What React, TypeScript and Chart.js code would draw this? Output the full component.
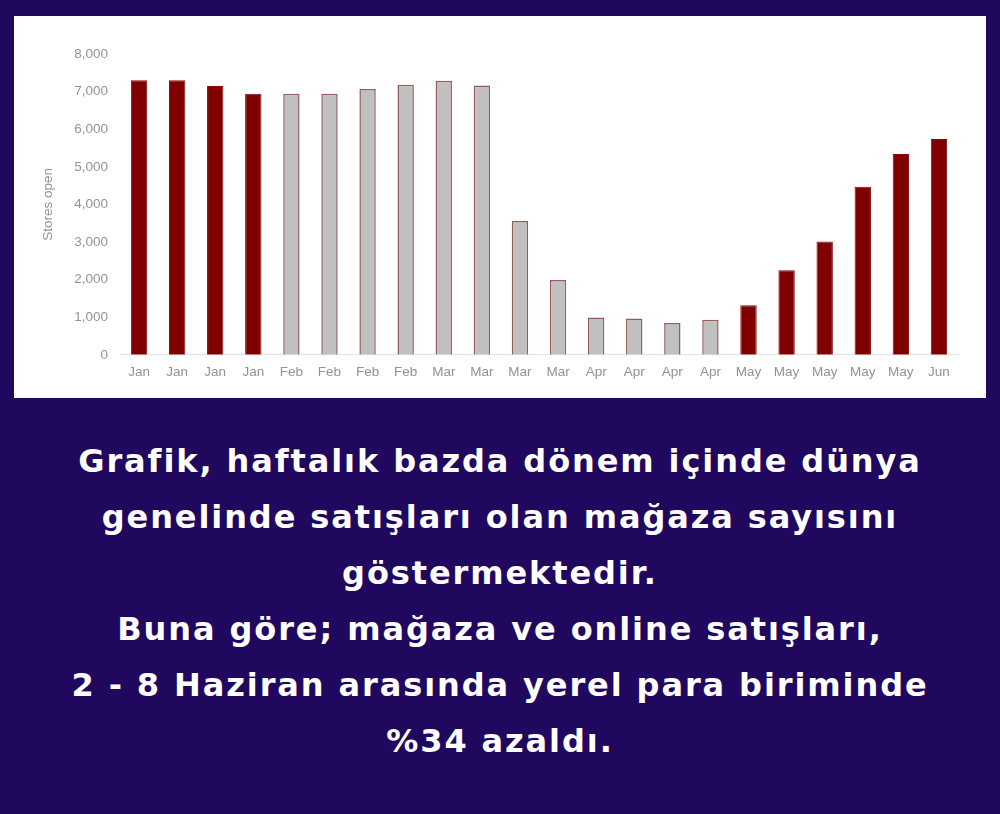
import React, { useEffect, useRef } from "react";
import { Chart, registerables } from "chart.js";

Chart.register(...registerables);

const weekLabels = [
  "Jan", "Jan", "Jan", "Jan", "Feb", "Feb", "Feb", "Feb", "Mar", "Mar", "Mar",
  "Mar", "Apr", "Apr", "Apr", "Apr", "May", "May", "May", "May", "May", "Jun",
];
const storesOpen = [
  7300, 7300, 7150, 6940, 6940, 6940, 7070, 7180, 7290, 7160, 3560,
  1990, 990, 965, 845, 930, 1320, 2250, 3010, 4470, 5340, 5740,
];
// true = highlighted (dark red) week, false = grey week
const highlighted = [
  true, true, true, true, false, false, false, false, false, false, false,
  false, false, false, false, false, true, true, true, true, true, true,
];
const yTicks = [0, 1000, 2000, 3000, 4000, 5000, 6000, 7000, 8000];
const yTitle = "Stores open";

const captionLines = [
  "Grafik, haftalık bazda dönem içinde dünya",
  "genelinde satışları olan mağaza sayısını",
  "göstermektedir.",
  "Buna göre; mağaza ve online satışları,",
  "2 - 8 Haziran arasında yerel para biriminde",
  "%34 azaldı.",
];

const DARK = "#800000";
const GREY = "#c0c0c0";
const AXIS_FONT = "'Liberation Sans', Arial, sans-serif";

function ChartBox() {
  const ref = useRef<HTMLCanvasElement | null>(null);
  useEffect(() => {
    if (!ref.current) return;
    const chart = new Chart(ref.current, {
      type: "bar",
      data: {
        labels: weekLabels,
        datasets: [
          {
            data: storesOpen,
            backgroundColor: highlighted.map((h) => (h ? DARK : GREY)),
            borderColor: highlighted.map((h) => (h ? "#8a0a0a" : "#955c5c")),
            borderWidth: highlighted.map((h) => (h ? 1 : 1.5)),
            categoryPercentage: 1,
            barPercentage: 0.43,
          },
        ],
      },
      options: {
        animation: false,
        responsive: false,
        devicePixelRatio: 1,
        layout: { padding: { top: 38, right: 28, bottom: 17, left: 0 } },
        plugins: {
          legend: { display: false },
          tooltip: { enabled: false },
        },
        scales: {
          x: {
            grid: { display: false },
            border: { display: true, color: "#e2e2e2", width: 1 },
            ticks: {
              color: "#939393",
              font: { family: AXIS_FONT, size: 13.5 },
              padding: 1,
              autoSkip: false,
              maxRotation: 0,
            },
          },
          y: {
            min: 0,
            max: 8000,
            afterFit: (scale: any) => {
              scale.width = 106;
            },
            afterBuildTicks: (scale: any) => {
              scale.ticks = yTicks.map((v) => ({ value: v }));
            },
            grid: { display: false },
            border: { display: false },
            title: {
              display: true,
              text: yTitle,
              color: "#939393",
              font: { family: AXIS_FONT, size: 13.5 },
              padding: { top: 26, bottom: 0 },
            },
            ticks: {
              color: "#939393",
              font: { family: AXIS_FONT, size: 13.5 },
              padding: 4,
              callback: (v: any) => Number(v).toLocaleString("en-US"),
            },
          },
        },
      },
    });
    return () => chart.destroy();
  }, []);
  return <canvas ref={ref} width={972} height={382} style={{ display: "block" }} />;
}

export default function App() {
  return (
    <div
      style={{
        position: "absolute",
        left: 0,
        top: 0,
        width: 1000,
        height: 814,
        background: "#20085f",
        overflow: "hidden",
      }}
    >
      <div
        style={{
          position: "absolute",
          left: 14,
          top: 16,
          width: 972,
          height: 382,
          background: "#ffffff",
        }}
      >
        <ChartBox />
      </div>
      <div
        style={{
          position: "absolute",
          left: 0,
          top: 433,
          width: 1000,
          textAlign: "center",
          color: "#ffffff",
          fontFamily: "'DejaVu Sans', sans-serif",
          fontWeight: 700,
          fontSize: 32,
          letterSpacing: "1.9px",
          lineHeight: "56px",
        }}
      >
        {captionLines.map((l, i) => (
          <div key={i}>{l}</div>
        ))}
      </div>
    </div>
  );
}
